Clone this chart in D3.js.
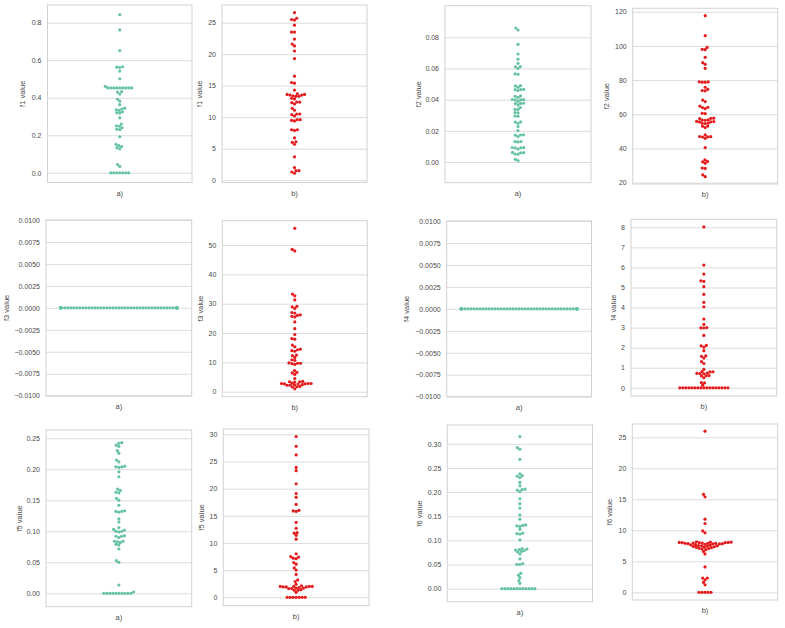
<!DOCTYPE html>
<html><head><meta charset="utf-8">
<script src="https://cdnjs.cloudflare.com/ajax/libs/d3/7.8.5/d3.min.js"></script>
<style>body{margin:0;background:#fff}svg{display:block}</style>
</head><body><svg id="c" width="785" height="628"></svg>
<script>
// ---------------- data ----------------
const groups = ["a)", "b)"];
const features = ["f1", "f2", "f3", "f4", "f5", "f6"];

const f1_a = [0.843,0.761,0.651,0.565,0.563,0.561,0.542,0.501,0.461,0.452,0.452,0.452,0.452,0.452,0.452,0.452,0.452,0.452,0.432,0.430,0.420,0.392,0.382,0.363,0.345,0.340,0.335,0.333,0.325,0.320,0.318,0.293,0.260,0.250,0.248,0.240,0.232,0.230,0.192,0.152,0.145,0.140,0.133,0.128,0.044,0.034,0,0,0,0,0,0,0];
const f1_b = [26.6,25.7,25.5,25.4,24.6,23.5,23.5,22.4,21.6,21.3,20.5,19.3,16.5,15.5,15.4,14.3,13.7,13.6,13.6,13.5,13.5,13.4,13.3,13.3,13.0,12.9,12.4,12.4,12.3,12.1,11.4,11.1,10.5,10.5,10.4,10.2,9.6,9.6,9.5,9.4,8.0,8.0,7.9,6.7,6.1,6.0,5.7,3.7,2.0,1.5,1.5,1.3,1.1];
const f2_a = [0.086,0.0847,0.0755,0.0693,0.066,0.0633,0.0612,0.0610,0.060,0.0565,0.0563,0.049,0.0488,0.048,0.0466,0.0465,0.0464,0.0458,0.0424,0.0422,0.0415,0.0401,0.0400,0.0399,0.0398,0.039,0.0377,0.0376,0.0375,0.0366,0.0349,0.0338,0.0337,0.0317,0.0316,0.0295,0.0294,0.0257,0.0256,0.0248,0.0227,0.0201,0.0174,0.0173,0.0172,0.0163,0.0131,0.013,0.0129,0.0093,0.0092,0.0091,0.009,0.0083,0.0061,0.006,0.0059,0.0051,0.005,0.0017,0.0009];
const f2_b = [117.7,106,99.1,98.0,97.8,93.3,90.2,89.2,86.9,79.0,78.9,78.8,78.8,75.8,74.6,73.9,73.7,68.3,67.4,64.8,64.1,63.9,63.3,60.6,60.4,57.7,57.6,57.5,56.7,56.6,56.5,55.8,55.7,55.6,55.5,54.8,54.7,54.6,53.1,53.0,52.2,47.9,47.0,46.9,46.8,46.7,45.9,40.5,33.3,32.4,32.2,31.3,28.5,28.3,24.5,23.5];
const f3_a = [0,0,0,0,0,0,0,0,0,0,0,0,0,0,0,0,0,0,0,0,0,0,0,0,0,0,0,0,0,0,0,0,0,0,0,0,0,0,0,0,0,0,0,0,0,0,0,0,0,0];
const f3_b = [55.7,48.5,48.0,33.3,32.7,31.3,29.1,28.9,28.4,27.0,26.8,26.2,26.0,25.7,25.5,23.8,21.5,19.5,18.1,17.9,15.9,15.3,14.5,14.3,14.0,13.8,12.5,12.3,11.7,10.9,10.7,9.8,9.7,9.7,9.6,9.3,7.2,6.6,6.4,5.9,4.5,3.5,3.4,3.4,3.3,2.9,2.8,2.8,2.8,2.7,2.7,2.6,2.4,2.3,2.2,2.2,1.8,1.7,1.6,1.0];
const f4_a = [0,0,0,0,0,0,0,0,0,0,0,0,0,0,0,0,0,0,0,0,0,0,0,0,0,0,0,0,0,0,0,0,0,0,0,0,0,0,0,0,0,0,0,0,0,0,0,0,0,0];
const f4_b = [8.02,6.12,5.67,5.33,5.31,5.04,4.66,4.26,4.04,3.43,3.16,3.0,2.99,2.98,2.61,2.11,2.09,2.03,1.85,1.59,1.57,1.48,1.30,1.21,0.92,0.81,0.80,0.79,0.73,0.72,0.71,0.70,0.61,0.60,0.59,0.50,0.26,0.24,0.13,0,0,0,0,0,0,0,0,0,0,0,0,0,0,0,0,0];
const f5_a = [0.243,0.242,0.239,0.237,0.230,0.226,0.215,0.212,0.205,0.204,0.204,0.203,0.196,0.188,0.168,0.166,0.163,0.162,0.153,0.150,0.142,0.133,0.132,0.132,0.131,0.120,0.115,0.106,0.103,0.102,0.100,0.100,0.099,0.093,0.092,0.092,0.090,0.084,0.084,0.083,0.082,0.079,0.078,0.0715,0.0527,0.050,0.0134,0.002,0,0,0,0,0,0,0,0,0,0];
const f5_b = [29.6,27.8,26.2,23.9,23.3,20.9,19.1,18.4,17.1,16.0,15.9,15.8,13.8,12.7,11.9,11.8,11.4,10.7,8.0,7.5,7.4,7.2,7.1,6.4,6.1,5.4,5.0,4.2,3.2,2.9,2.4,2.1,2.0,2.0,2.0,2.0,1.9,1.9,1.9,1.8,1.7,1.7,1.6,1.6,1.4,1.3,1.3,0.9,0,0,0,0,0,0,0];
const f6_a = [0.315,0.292,0.289,0.268,0.238,0.234,0.233,0.230,0.220,0.213,0.206,0.205,0.204,0.201,0.186,0.176,0.167,0.153,0.144,0.132,0.131,0.130,0.129,0.123,0.115,0.114,0.113,0.101,0.083,0.082,0.081,0.080,0.079,0.077,0.076,0.072,0.0615,0.052,0.0505,0.050,0.0318,0.028,0.0228,0.0166,0.011,0,0,0,0,0,0,0,0,0,0,0,0];
const f6_b = [26.0,15.8,15.4,11.8,11.1,9.9,9.6,8.15,8.1,8.1,8.05,8.05,8.0,8.0,8.0,7.95,7.95,7.9,7.9,7.9,7.85,7.85,7.8,7.8,7.75,7.7,7.65,7.6,7.55,7.5,7.5,7.45,7.4,7.35,7.3,7.25,7.2,7.1,7.05,7.0,6.9,6.6,6.2,4.1,2.3,2.3,2.0,1.6,1.2,0,0,0,0,0];

// tick labels
const ticks_f1a = ["0.0","0.2","0.4","0.6","0.8"];
const ticks_f1b = ["0","5","10","15","20","25"];
const ticks_f2a = ["0.00","0.02","0.04","0.06","0.08"];
const ticks_f2b = ["20","40","60","80","100","120"];
const ticks_f3a = ["\u22120.0100","\u22120.0075","\u22120.0050","\u22120.0025","0.0000","0.0025","0.0050","0.0075","0.0100"];
const ticks_f3b = ["0","10","20","30","40","50"];
const ticks_f4a = ["\u22120.0100","\u22120.0075","\u22120.0050","\u22120.0025","0.0000","0.0025","0.0050","0.0075","0.0100"];
const ticks_f4b = ["0","1","2","3","4","5","6","7","8"];
const ticks_f5a = ["0.00","0.05","0.10","0.15","0.20","0.25"];
const ticks_f5b = ["0","5","10","15","20","25","30"];
const ticks_f6a = ["0.00","0.05","0.10","0.15","0.20","0.25","0.30"];
const ticks_f6b = ["0","5","10","15","20","25"];

// axis limits
const lim_f1a = [-0.0516, 0.894], lim_f1b = [-0.37, 27.8];
const lim_f2a = [-0.0133, 0.1003], lim_f2b = [19.2, 122];
const lim_f3a = [-0.01, 0.01], lim_f3b = [-1.7, 58.3];
const lim_f4a = [-0.01, 0.01], lim_f4b = [-0.41, 8.4];
const lim_f5a = [-0.0216, 0.2634], lim_f5b = [-1.55, 30.98];
const lim_f6a = [-0.027, 0.339], lim_f6b = [-1.24, 27.15];

// ---------------- layout & style ----------------
const GREEN = "#66c2a5", RED = "#e41a1c";
const panels = [
  {v:f1_a, g:0, f:0, lim:lim_f1a, t:ticks_f1a, box:[47.5,5,192,182.5],   ylx:23},
  {v:f1_b, g:1, f:0, lim:lim_f1b, t:ticks_f1b, box:[222,5,367,182.5],    ylx:200},
  {v:f2_a, g:0, f:1, lim:lim_f2a, t:ticks_f2a, box:[445,5.7,591,182.7],  ylx:419},
  {v:f2_b, g:1, f:1, lim:lim_f2b, t:ticks_f2b, box:[632.7,8.3,777.7,184],ylx:607},
  {v:f3_a, g:0, f:2, lim:lim_f3a, t:ticks_f3a, box:[46,220,191.7,395.7], ylx:7},
  {v:f3_b, g:1, f:2, lim:lim_f3b, t:ticks_f3b, box:[222.3,220.7,367.3,396.7], ylx:201},
  {v:f4_a, g:0, f:3, lim:lim_f4a, t:ticks_f4a, box:[446.7,221,591.5,396.7], ylx:407},
  {v:f4_b, g:1, f:3, lim:lim_f4b, t:ticks_f4b, box:[631,219.3,776.7,396], ylx:614},
  {v:f5_a, g:0, f:4, lim:lim_f5a, t:ticks_f5a, box:[46,430,191.7,606.7], ylx:20},
  {v:f5_b, g:1, f:4, lim:lim_f5b, t:ticks_f5b, box:[223.3,429,369,605.7], ylx:202},
  {v:f6_a, g:0, f:5, lim:lim_f6a, t:ticks_f6a, box:[447.3,425,592.5,601.7], ylx:420},
  {v:f6_b, g:1, f:5, lim:lim_f6b, t:ticks_f6b, box:[632.3,424,777.7,600], ylx:610}
];

const FONT = "'Liberation Sans', Arial, sans-serif";
const TXT = "#4a4a4a";
const R_SWARM = 1.43, R_DRAW = 1.6;

function swarmX(ypix, cx, r, half) {
  const idx = d3.range(ypix.length).sort((a, b) => ypix[b] - ypix[a]);
  const placed = [], xs = new Array(ypix.length);
  for (const i of idx) {
    const y = ypix[i];
    const nb = [];
    for (let k = placed.length - 1; k >= 0; k--) {
      if (Math.abs(placed[k].y - y) < 2 * r) nb.push(placed[k]); else break;
    }
    const c = [cx]; let lf = true;
    for (const n of nb) {
      const dy = y - n.y;
      const dx = Math.sqrt(Math.max(4 * r * r - dy * dy, 0)) * 1.05;
      if (lf) c.push(n.x - dx, n.x + dx); else c.push(n.x + dx, n.x - dx);
      lf = !lf;
    }
    const ord = c.map((_, j) => j).sort((a, b) => (Math.abs(c[a] - cx) - Math.abs(c[b] - cx)) || (a - b));
    let chosen = cx;
    for (const j of ord) {
      let ok = true;
      for (const n of nb) {
        if ((n.x - c[j]) ** 2 + (n.y - y) ** 2 < 4 * r * r - 1e-9) { ok = false; break; }
      }
      if (ok) { chosen = c[j]; break; }
    }
    placed.push({x: chosen, y});
    xs[i] = chosen;
  }
  return xs.map(x => Math.max(cx - half, Math.min(cx + half, x)));
}

const svg = d3.select("#c");
svg.append("rect").attr("width", 785).attr("height", 628).attr("fill", "#fff");

panels.forEach(p => {
  const [x0, y0, x1, y1] = p.box;
  const w = x1 - x0;
  const y = d3.scaleLinear().domain(p.lim).range([y1, y0]);
  const x = d3.scaleBand().domain([groups[p.g]]).range([x0, x1]);
  const cx = x(groups[p.g]) + x.bandwidth() / 2;
  const g = svg.append("g");
  const tvals = p.t.map(s => +s.replace("\u2212", "-"));

  // grid
  const grid = g.append("g").attr("transform", `translate(${x0},0)`)
    .call(d3.axisLeft(y).tickValues(tvals).tickSize(-w).tickFormat(""));
  grid.select(".domain").remove();
  grid.selectAll("line").attr("stroke", "#dcdcdc").attr("stroke-width", 1);

  // frame
  g.append("rect").attr("x", x0).attr("y", y0).attr("width", w).attr("height", y1 - y0)
    .attr("fill", "none").attr("stroke", "#d2d2d2").attr("stroke-width", 1);

  // tick labels
  const ax = g.append("g").attr("transform", `translate(${x0},0)`)
    .call(d3.axisLeft(y).tickValues(tvals).tickSize(0).tickPadding(6).tickFormat((d, i) => p.t[i]));
  ax.select(".domain").remove();
  ax.selectAll("text").attr("font-family", FONT).attr("font-size", 7).attr("fill", TXT);

  // y label
  g.append("text").attr("transform", `translate(${p.ylx},${(y0 + y1) / 2}) rotate(-90)`)
    .attr("text-anchor", "middle").attr("dominant-baseline", "middle")
    .attr("font-family", FONT).attr("font-size", 7.5).attr("fill", TXT)
    .text(features[p.f] + " value");

  // x label
  g.append("text").attr("x", cx).attr("y", y1 + 11.5)
    .attr("text-anchor", "middle").attr("dominant-baseline", "middle")
    .attr("font-family", FONT).attr("font-size", 7.5).attr("fill", TXT)
    .text(groups[p.g]);

  // swarm
  const ypix = p.v.map(v => y(v));
  const xs = swarmX(ypix, cx, R_SWARM, x.bandwidth() * 0.4);
  g.append("g").selectAll("circle").data(p.v).join("circle")
    .attr("cx", (d, i) => xs[i]).attr("cy", (d, i) => ypix[i]).attr("r", R_DRAW)
    .attr("fill", p.g === 0 ? GREEN : RED);
});
</script>
</body></html>
